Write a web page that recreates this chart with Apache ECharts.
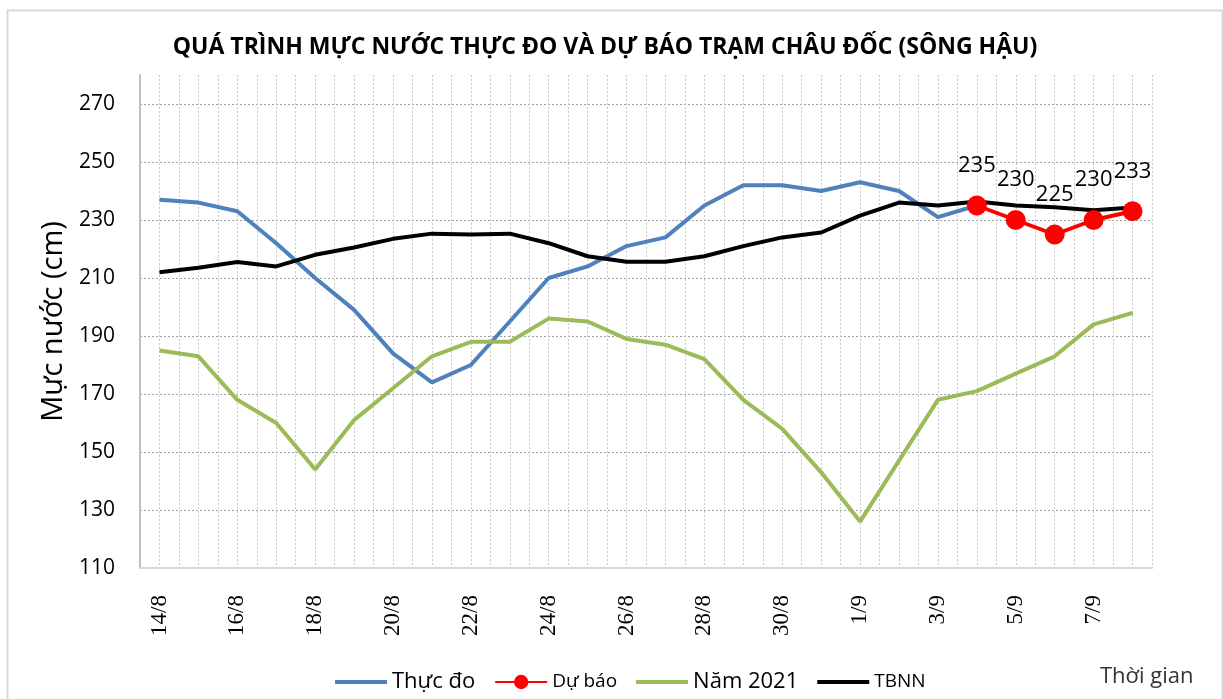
<!DOCTYPE html>
<html>
<head>
<meta charset="utf-8">
<script src="https://cdn.jsdelivr.net/npm/echarts@6/dist/echarts.min.js"></script>
<style>
html,body{margin:0;padding:0;background:#fff;}
#chart{width:1223px;height:699px;}
</style>
</head>
<body>
<div id="chart"></div>
<script>
const categories = ['14/8','15/8','16/8','17/8','18/8','19/8','20/8','21/8','22/8','23/8','24/8','25/8','26/8','27/8','28/8','29/8','30/8','31/8','1/9','2/9','3/9','4/9','5/9','6/9','7/9','8/9'];
const thucDo = [237, 236, 233, 222, 210, 199, 184, 174, 180, 195, 210, 214, 221, 224, 235, 242, 242, 240, 243, 240, 231, 235];
const duBaoStart = '4/9';
const duBao = [235, 230, 225, 230, 233];
const nam2021 = [185, 183, 168, 160, 144, 161, 172, 183, 188, 188, 196, 195, 189, 187, 182, 168, 158, 143, 126, 147, 168, 171, 177, 183, 194, 198];
const tbnn = [212, 213.5, 215.5, 214, 218, 220.5, 223.5, 225.3, 225, 225.3, 222, 217.5, 215.6, 215.6, 217.5, 221, 224, 225.7, 231.5, 236, 235, 236.4, 235, 234.4, 233.4, 234.3];
const yTicks = {min: 110, max: 280, interval: 20};

const startIdx = categories.indexOf(duBaoStart);
const duBaoData = categories.map((c, i) => (i >= startIdx && i - startIdx < duBao.length) ? duBao[i - startIdx] : null);
const halfBands = categories.flatMap(() => ['', '']);
const lineIcon = 'path://M0,0H52V4H0Z';

const chart = echarts.init(document.getElementById('chart'));
chart.setOption({
  animation: false,
  backgroundColor: '#fff',
  title: {
    text: 'QUÁ TRÌNH MỰC NƯỚC THỰC ĐO VÀ DỰ BÁO TRẠM CHÂU ĐỐC (SÔNG HẬU)',
    left: 600, top: 31, textAlign: 'center',
    textStyle: {fontFamily: 'Open Sans', fontWeight: 'bold', fontSize: 23, color: '#000'}
  },
  grid: {left: 140, right: 71, top: 75, bottom: 131, containLabel: false},
  legend: {
    left: 330, top: 666,
    itemWidth: 52, itemHeight: 18, itemGap: 19,
    data: [
      {name: 'Thực đo', icon: lineIcon},
      {name: 'Dự báo'},
      {name: 'Năm 2021', icon: lineIcon},
      {name: 'TBNN', icon: lineIcon}
    ],
    formatter: function (name) {
      const key = (name === 'Dự báo' || name === 'TBNN') ? 's' : 'b';
      return '{' + key + '|' + name + '}';
    },
    textStyle: {
      color: '#000', fontFamily: 'Open Sans',
      rich: {
        b: {fontSize: 22, fontFamily: 'Open Sans', color: '#000'},
        s: {fontSize: 19, fontFamily: 'Open Sans', color: '#000'}
      }
    }
  },
  xAxis: [{
    type: 'category', data: categories, boundaryGap: true,
    axisLine: {show: true, lineStyle: {color: '#d9d9d9', width: 2}},
    axisTick: {show: false},
    axisLabel: {interval: 1, rotate: 90, margin: 27, color: '#000', fontFamily: 'Liberation Serif', fontSize: 23},
    splitLine: {show: false}
  }, {
    type: 'category', data: halfBands, boundaryGap: true, position: 'bottom',
    axisLine: {show: false}, axisTick: {show: false}, axisLabel: {show: false},
    splitLine: {show: true, interval: 0, lineStyle: {color: '#c8c8c8', type: [2, 2], width: 1}}
  }],
  yAxis: {
    type: 'value', min: yTicks.min, max: yTicks.max, interval: yTicks.interval,
    name: 'Mực nước (cm)', nameLocation: 'middle', nameGap: 65, nameRotate: 90,
    nameTextStyle: {fontFamily: 'Open Sans', fontSize: 29, color: '#000'},
    axisLine: {show: true, lineStyle: {color: '#bfbfbf', width: 2}},
    axisTick: {show: false},
    axisLabel: {margin: 25, color: '#000', fontFamily: 'Open Sans', fontSize: 21, showMaxLabel: false},
    splitLine: {show: true, showMinLine: false, showMaxLine: false, lineStyle: {color: '#a0a0a0', type: [2, 2], width: 1}}
  },
  series: [{
    name: 'Thực đo', type: 'line', data: thucDo, symbol: 'none',
    lineStyle: {color: '#4f81bd', width: 4}, itemStyle: {color: '#4f81bd'}
  }, {
    name: 'Dự báo', type: 'line', data: duBaoData, symbol: 'circle', symbolSize: 20,
    lineStyle: {color: '#ff0000', width: 4}, itemStyle: {color: '#ff0000'},
    label: {show: true, position: 'top', distance: 19, color: '#000', fontFamily: 'Open Sans', fontSize: 22}
  }, {
    name: 'Năm 2021', type: 'line', data: nam2021, symbol: 'none',
    lineStyle: {color: '#9bbb59', width: 4}, itemStyle: {color: '#9bbb59'}
  }, {
    name: 'TBNN', type: 'line', data: tbnn, symbol: 'none',
    lineStyle: {color: '#000', width: 4}, itemStyle: {color: '#000'}
  }],
  graphic: [{
    type: 'rect', left: 5, top: 8, silent: true,
    shape: {width: 1215, height: 720},
    style: {fill: 'none', stroke: '#d9d9d9', lineWidth: 2}
  }, {
    type: 'text', left: 1100, top: 666,
    style: {text: 'Thời gian', fontFamily: 'Open Sans', fontSize: 22, fill: '#333'}
  }]
});
</script>
</body>
</html>
